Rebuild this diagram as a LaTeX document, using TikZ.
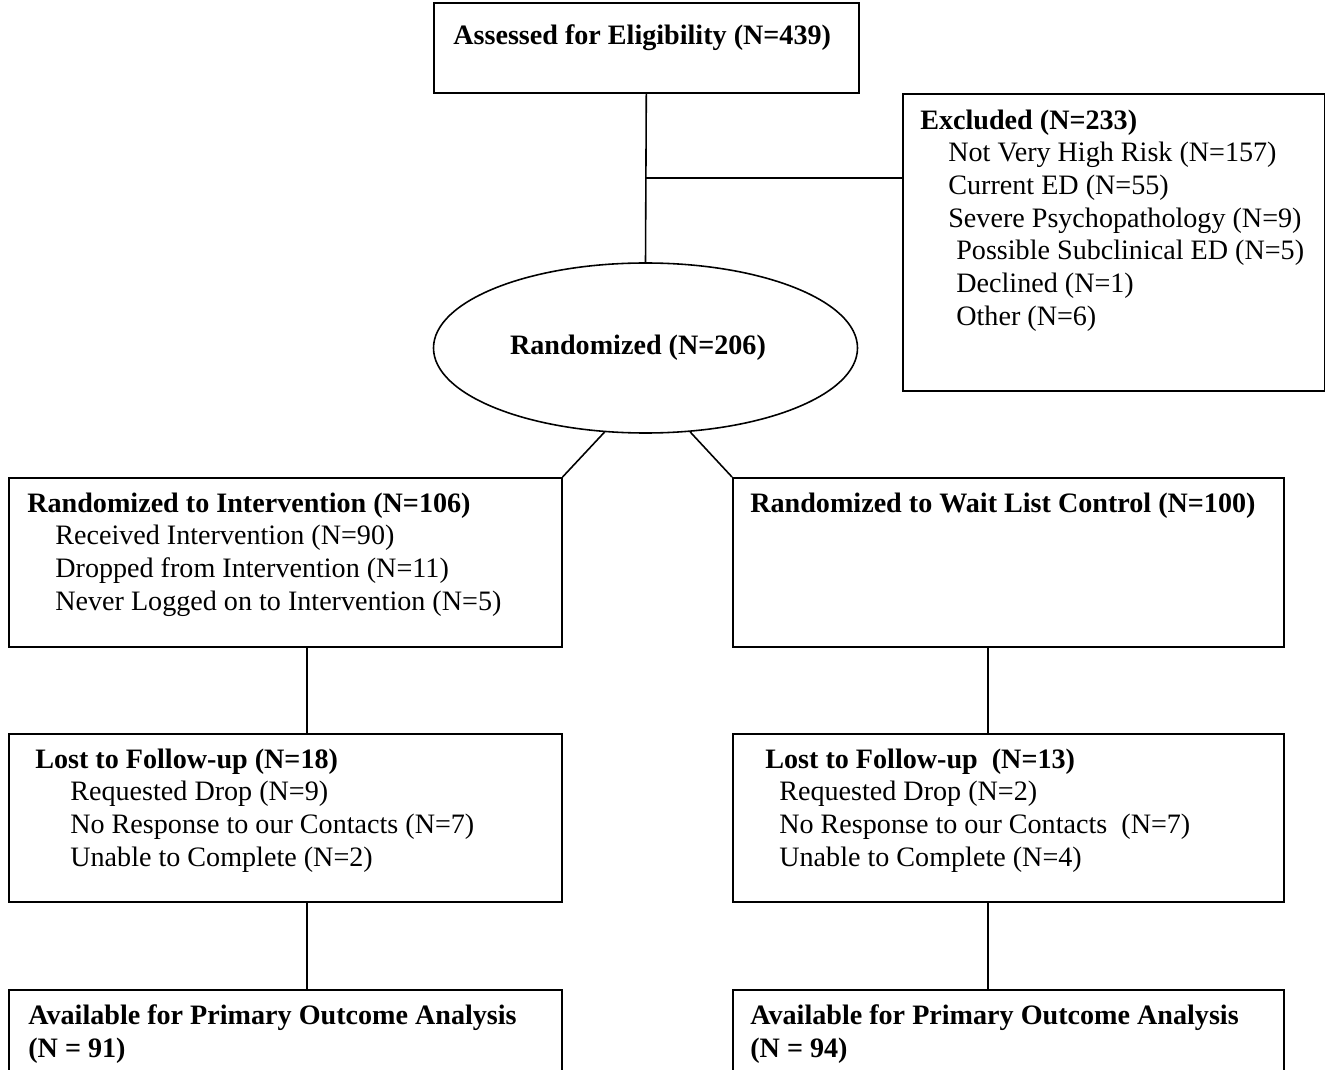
\documentclass[tikz,border=0pt]{standalone}
\usepackage{fontspec}
\setmainfont{Liberation Serif}
\usepackage{tikz}
\usetikzlibrary{shapes.geometric}

\tikzset{
    box/.style={draw, line width=0.9pt, rectangle, inner sep=0pt, anchor=north west},
    oval/.style={draw, line width=0.9pt, ellipse, inner sep=0pt},
    txt/.style={anchor=north west, inner sep=0pt, align=left, execute at begin node=\strut},
    link/.style={line width=0.9pt}
}

\begin{document}
\begin{tikzpicture}[font=\fontsize{16}{18.6}\selectfont]
    \clip (0,0) rectangle (26.5,-21.4);

    % Boxes
    \node[box, minimum width=8.5cm, minimum height=1.8cm] (assess) at (8.66,-0.04) {};
    \node[box, minimum width=8.44cm, minimum height=5.94cm] (excl) at (18.04,-1.86) {};
    \node[oval, minimum width=8.48cm, minimum height=3.4cm] (rand) at (12.91,-6.96) {\textbf{Randomized (N=206)}\hspace*{0.3cm}};
    \node[box, minimum width=11.06cm, minimum height=3.38cm] (int) at (0.16,-9.54) {};
    \node[box, minimum width=11.02cm, minimum height=3.38cm] (wait) at (14.64,-9.54) {};
    \node[box, minimum width=11.06cm, minimum height=3.36cm] (lostint) at (0.16,-14.66) {};
    \node[box, minimum width=11.02cm, minimum height=3.36cm] (lostwait) at (14.64,-14.66) {};
    \node[box, minimum width=11.06cm, minimum height=3.0cm] (availint) at (0.16,-19.78) {};
    \node[box, minimum width=11.02cm, minimum height=3.0cm] (availwait) at (14.64,-19.78) {};

    % Texts
    \node[txt] (assesstxt) at (9.06,-0.426) {\textbf{Assessed for Eligibility (N=439)}};
    \node[txt] (excltxt) at (18.40,-2.186) {\textbf{Excluded (N=233)}\\
        \hspace*{0.56cm}Not Very High Risk (N=157)\\
        \hspace*{0.56cm}Current ED (N=55)\\
        \hspace*{0.56cm}Severe Psychopathology (N=9)\\
        \hspace*{0.72cm}Possible Subclinical ED (N=5)\\
        \hspace*{0.72cm}Declined (N=1)\\
        \hspace*{0.72cm}Other (N=6)};
    \node[txt] (inttxt) at (0.54,-9.846) {\textbf{Randomized to Intervention (N=106)}\\
        \hspace*{0.56cm}Received Intervention (N=90)\\
        \hspace*{0.56cm}Dropped from Intervention (N=11)\\
        \hspace*{0.56cm}Never Logged on to Intervention (N=5)};
    \node[txt] (waittxt) at (15.00,-9.786) {\textbf{Randomized to Wait List Control (N=100)}};
    \node[txt] (lostinttxt) at (0.70,-14.966) {\textbf{Lost to Follow-up (N=18)}\\
        \hspace*{0.70cm}Requested Drop (N=9)\\
        \hspace*{0.70cm}No Response to our Contacts (N=7)\\
        \hspace*{0.70cm}Unable to Complete (N=2)};
    \node[txt] (lostwaittxt) at (15.30,-14.966) {\textbf{Lost to Follow-up~ (N=13)}\\
        \hspace*{0.28cm}Requested Drop (N=2)\\
        \hspace*{0.28cm}No Response to our Contacts~ (N=7)\\
        \hspace*{0.28cm}Unable to Complete (N=4)};
    \node[txt] (availinttxt) at (0.56,-20.086) {\textbf{Available for Primary Outcome Analysis}\\\textbf{(N = 91)}};
    \node[txt] (availwaittxt) at (15.00,-20.086) {\textbf{Available for Primary Outcome Analysis}\\\textbf{(N = 94)}};

    % Connectors
    \draw[link] (assess.south) -- (rand.north);
    \path (assess.south) -- (rand.north) coordinate[pos=0.5] (split);
    \draw[link] (split) -- (split -| excl.west);
    \draw[link] (rand.244) -- (int.north east);
    \draw[link] (rand.298) -- (wait.north west);
    \foreach \a/\b in {int/lostint, lostint/availint}
        \draw[link] ([xshift=0.43cm]\a.south) -- ([xshift=0.43cm]\b.north);
    \foreach \a/\b in {wait/lostwait, lostwait/availwait}
        \draw[link] ([xshift=-0.41cm]\a.south) -- ([xshift=-0.41cm]\b.north);
\end{tikzpicture}
\end{document}
